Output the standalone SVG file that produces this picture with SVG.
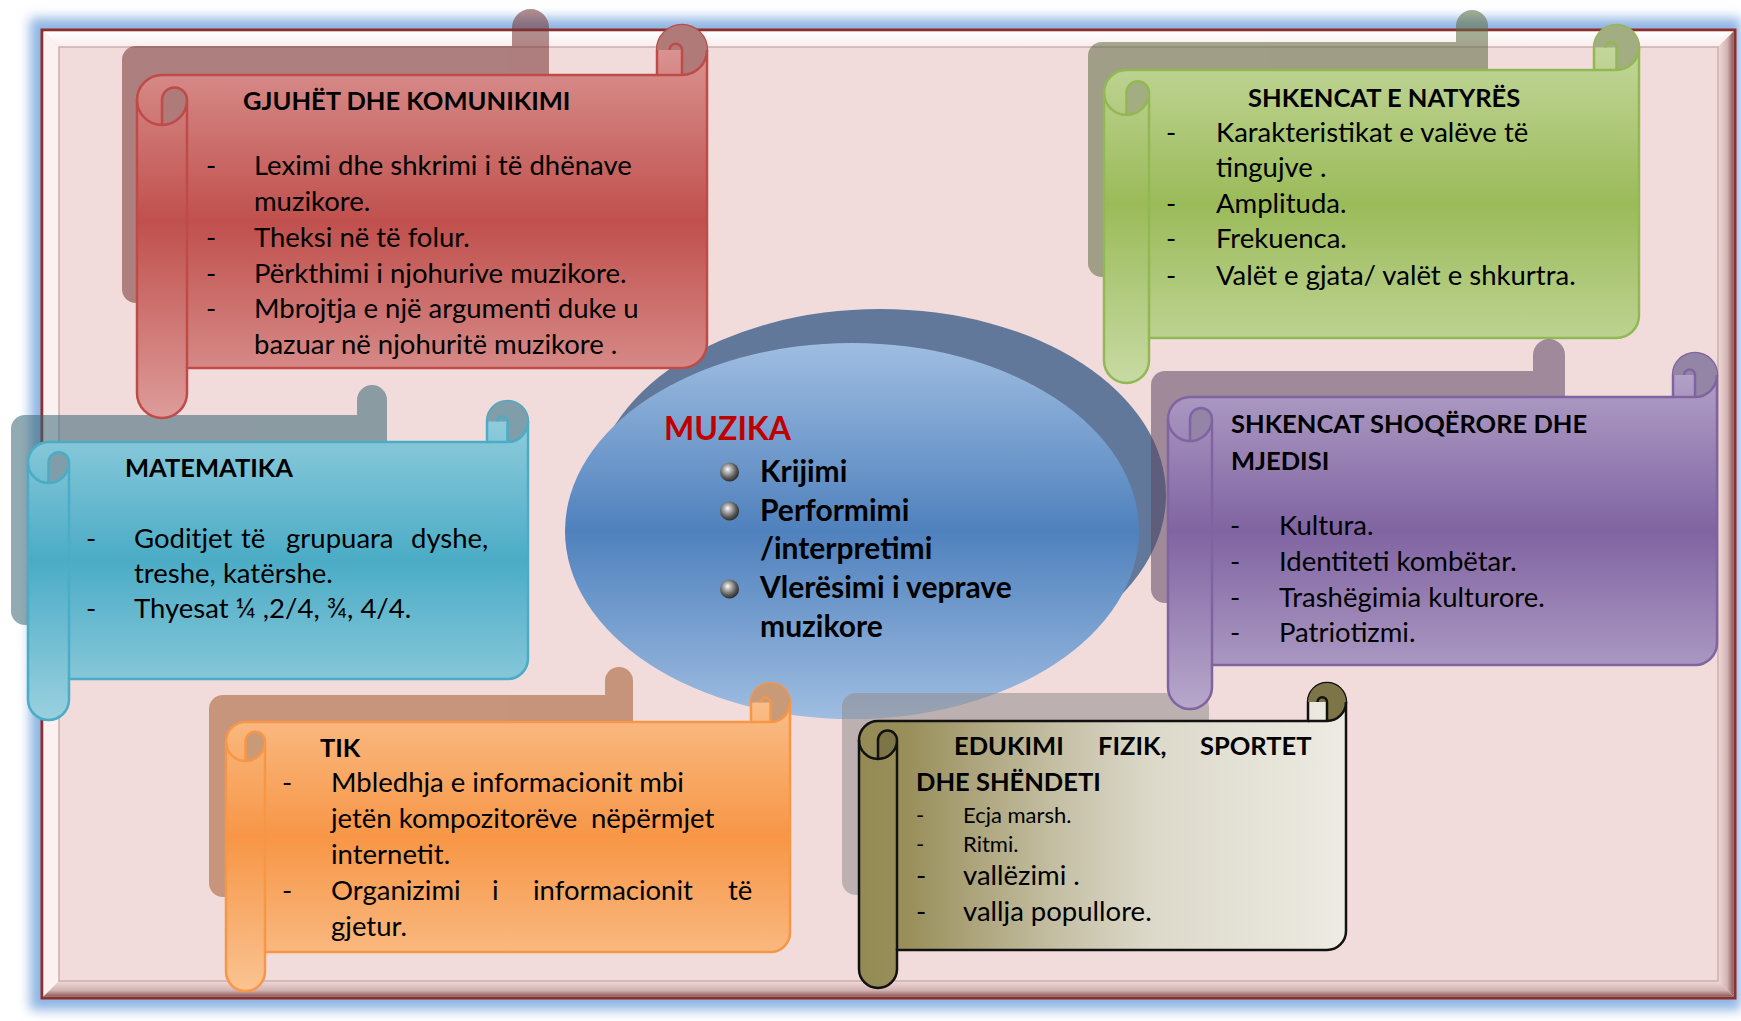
<svg xmlns="http://www.w3.org/2000/svg" width="1741" height="1021" viewBox="0 0 1741 1021">
<defs>
<style>
.tx{font-family:Lato,'Open Sans','Liberation Sans',sans-serif;font-size:27.5px;fill:#000}
.bd{font-family:Lato,'Open Sans','Liberation Sans',sans-serif;font-size:25.5px;font-weight:700;fill:#000}
.sm{font-size:22px}
.eb{font-family:Lato,'Open Sans','Liberation Sans',sans-serif;font-size:30px;font-weight:700;fill:#000}
.det{fill:none;stroke-width:2.5}
</style>
<filter id="glow" x="-5%" y="-5%" width="110%" height="110%"><feGaussianBlur stdDeviation="6"/></filter>
<linearGradient id="gRed" x1="0" y1="0" x2="0" y2="1"><stop offset="0" stop-color="#DD9C9A"/><stop offset="0.5" stop-color="#C0504D"/><stop offset="1" stop-color="#DD9C9A"/></linearGradient>
<linearGradient id="gGreen" x1="0" y1="0" x2="0" y2="1"><stop offset="0" stop-color="#C8DAA4"/><stop offset="0.5" stop-color="#9BBB59"/><stop offset="1" stop-color="#C8DAA4"/></linearGradient>
<linearGradient id="gBlue" x1="0" y1="0" x2="0" y2="1"><stop offset="0" stop-color="#9AD0DF"/><stop offset="0.5" stop-color="#4BACC6"/><stop offset="1" stop-color="#9AD0DF"/></linearGradient>
<linearGradient id="gPurple" x1="0" y1="0" x2="0" y2="1"><stop offset="0" stop-color="#B8A8CB"/><stop offset="0.5" stop-color="#8064A2"/><stop offset="1" stop-color="#B8A8CB"/></linearGradient>
<linearGradient id="gOrange" x1="0" y1="0" x2="0" y2="1"><stop offset="0" stop-color="#FAC392"/><stop offset="0.5" stop-color="#F79646"/><stop offset="1" stop-color="#FAC392"/></linearGradient>
<linearGradient id="gOlive" x1="0" y1="0" x2="1" y2="0"><stop offset="0" stop-color="#948A54"/><stop offset="0.1" stop-color="#998F5B"/><stop offset="0.4" stop-color="#C4BEA3"/><stop offset="0.6" stop-color="#DCD9CA"/><stop offset="1" stop-color="#EDEBE3"/></linearGradient>
<linearGradient id="gEll" x1="0" y1="0" x2="0" y2="1"><stop offset="0" stop-color="#9FBDE1"/><stop offset="0.5" stop-color="#4F81BD"/><stop offset="1" stop-color="#9FBDE1"/></linearGradient>
<radialGradient id="ball" cx="0.42" cy="0.4" r="0.62" fx="0.4" fy="0.35"><stop offset="0" stop-color="#FFFFFF"/><stop offset="0.25" stop-color="#BDBDBD"/><stop offset="0.7" stop-color="#5A5A5A"/><stop offset="1" stop-color="#2A2A2A"/></radialGradient>
<linearGradient id="bevB" x1="0" y1="0" x2="0" y2="1"><stop offset="0" stop-color="#F0DADA"/><stop offset="0.6" stop-color="#D2B3B2"/><stop offset="1" stop-color="#8A5A58"/></linearGradient>
<linearGradient id="bevR" x1="0" y1="0" x2="1" y2="0"><stop offset="0" stop-color="#F0DADA"/><stop offset="0.6" stop-color="#D2B3B2"/><stop offset="1" stop-color="#8A5A58"/></linearGradient>
<linearGradient id="bevT" x1="0" y1="0" x2="0" y2="1"><stop offset="0" stop-color="#FFFFFF"/><stop offset="1" stop-color="#F8ECEC"/></linearGradient>
</defs>

<g id="frame">
<rect x="30" y="18" width="1711" height="992" fill="#8EB4E3" filter="url(#glow)"/>
<rect x="42" y="30" width="1693" height="968" fill="#F2DCDB" stroke="#8E2F2D" stroke-width="3"/>
<polygon points="43.5,31.5 1733.5,31.5 1718,47 59,47" fill="url(#bevT)"/>
<polygon points="43.5,31.5 59,47 59,981 43.5,996.5" fill="#FBF1F1"/>
<polygon points="43.5,996.5 59,981 1718,981 1733.5,996.5" fill="url(#bevB)"/>
<polygon points="1733.5,31.5 1733.5,996.5 1718,981 1718,47" fill="url(#bevR)"/>
<rect x="59" y="47" width="1659" height="934" fill="none" stroke="#CDAEAD" stroke-width="1.5"/>
</g>

<g id="connectors"></g>

<g id="node-muzika">
<ellipse cx="880" cy="495" rx="286" ry="186" fill="#61789A"/>
<ellipse cx="852" cy="531" rx="287" ry="188" fill="url(#gEll)"/>
<text x="664" y="440" font-family="Lato,'Open Sans',sans-serif" font-size="32" font-weight="700" fill="#C00000">MUZIKA</text>
<circle cx="729.5" cy="472" r="9.5" fill="url(#ball)"/>
<circle cx="729.5" cy="511" r="9.5" fill="url(#ball)"/>
<circle cx="729.5" cy="589" r="9.5" fill="url(#ball)"/>
<text class="eb" x="760" y="482">Krijimi</text>
<text class="eb" x="760" y="521">Performimi</text>
<text class="eb" x="760" y="559">/interpretimi</text>
<text class="eb" x="760" y="598">Vlerësimi i veprave</text>
<text class="eb" x="760" y="637">muzikore</text>
</g>

<g id="node-tik">
<g opacity="0.55" fill="#A25B2B"><rect x="209" y="695" width="424" height="202" rx="14"/><path d="M605,715 L605,681 A14,14 0 0 1 633,681 L633,715 Z"/></g>
<path d="M226,741.5 A19.5,19.5 0 0 1 245.5,722 L751,722 L751,702.5 A19.5,19.5 0 0 1 790,702.5 L790,932.5 A19.5,19.5 0 0 1 770.5,952 L265,952 L265,971.5 A19.5,19.5 0 0 1 226,971.5 Z" fill="url(#gOrange)" stroke="#F79646" stroke-width="2.5"/>
<path d="M245.5,761 A19.5,19.5 0 0 0 265,741.5 A9.75,9.75 0 0 0 245.5,741.5 Z M770.5,722 A19.5,19.5 0 1 0 751,702.5 L770.5,702.5 Z" fill="#C99A78"/>
<path class="det" stroke="#F79646" d="M245.5,761 L245.5,741.5 A9.75,9.75 0 0 1 265,741.5 A19.5,19.5 0 0 1 226,741.5 M265,741.5 L265,952 M751,722 L770.5,722 A19.5,19.5 0 0 0 790,702.5 M770.5,722 L770.5,702.5 A4.9,4.9 0 0 0 760.7,702.5"/>
<text class="bd" x="320" y="757">TIK</text>
<text class="tx" x="282" y="792">-</text>
<text class="tx" x="331" y="792">Mbledhja e informacionit mbi</text>
<text class="tx" y="828"><tspan x="331">jetën kompozitorëve</tspan><tspan x="591">nëpërmjet</tspan></text>
<text class="tx" x="331" y="864">internetit.</text>
<text class="tx" x="282" y="900">-</text>
<text class="tx" y="900"><tspan x="331">Organizimi</tspan><tspan x="492">i</tspan><tspan x="533">informacionit</tspan><tspan x="728">të</tspan></text>
<text class="tx" x="331" y="936">gjetur.</text>
</g>

<g id="node-edukimi">
<rect x="842" y="693" width="367" height="202" rx="14" fill="#928C8D" opacity="0.55"/>
<path d="M859,740 A19,19 0 0 1 878,721 L1308,721 L1308,702 A19,19 0 0 1 1346,702 L1346,931 A19,19 0 0 1 1327,950 L897,950 L897,969 A19,19 0 0 1 859,969 Z" fill="url(#gOlive)" stroke="#111" stroke-width="2.5"/>
<path d="M878,759 A19,19 0 0 0 897,740 A9.5,9.5 0 0 0 878,740 Z M1327,721 A19,19 0 1 0 1308,702 L1327,702 Z" fill="#7D7447"/>
<path class="det" stroke="#111" d="M878,759 L878,740 A9.5,9.5 0 0 1 897,740 A19,19 0 0 1 859,740 M897,740 L897,950 M1308,721 L1327,721 A19,19 0 0 0 1346,702 M1327,721 L1327,702 A4.75,4.75 0 0 0 1317.5,702"/>
<text class="bd" y="755"><tspan x="954">EDUKIMI</tspan><tspan x="1098">FIZIK,</tspan><tspan x="1200">SPORTET</tspan></text>
<text class="bd" x="916" y="791">DHE SHËNDETI</text>
<text class="tx sm" x="916" y="823">-</text>
<text class="tx sm" x="963" y="823">Ecja marsh.</text>
<text class="tx sm" x="916" y="852">-</text>
<text class="tx sm" x="963" y="852">Ritmi.</text>
<text class="tx" x="916" y="885">-</text>
<text class="tx" x="963" y="885">vallëzimi .</text>
<text class="tx" x="916" y="921">-</text>
<text class="tx" x="963" y="921">vallja popullore.</text>
</g>

<g id="node-matematika">
<g opacity="0.55" fill="#386675"><rect x="11" y="415" width="376" height="210" rx="14"/><path d="M357,435 L357,400 A15,15 0 0 1 387,400 L387,435 Z"/></g>
<path d="M28,462.5 A20.5,20.5 0 0 1 48.5,442 L487,442 L487,421.5 A20.5,20.5 0 0 1 528,421.5 L528,658.5 A20.5,20.5 0 0 1 507.5,679 L69,679 L69,699.5 A20.5,20.5 0 0 1 28,699.5 Z" fill="url(#gBlue)" stroke="#4BACC6" stroke-width="2.5"/>
<path d="M48.5,483 A20.5,20.5 0 0 0 69,462.5 A10.25,10.25 0 0 0 48.5,462.5 Z M507.5,442 A20.5,20.5 0 1 0 487,421.5 L507.5,421.5 Z" fill="#7F9EA9"/>
<path class="det" stroke="#4BACC6" d="M48.5,483 L48.5,462.5 A10.25,10.25 0 0 1 69,462.5 A20.5,20.5 0 0 1 28,462.5 M69,462.5 L69,679 M487,442 L507.5,442 A20.5,20.5 0 0 0 528,421.5 M507.5,442 L507.5,421.5 A5.1,5.1 0 0 0 497.3,421.5"/>
<text class="bd" x="125" y="477">MATEMATIKA</text>
<text class="tx" x="86" y="548">-</text>
<text class="tx" y="548"><tspan x="134">Goditjet</tspan><tspan x="241">të</tspan><tspan x="286">grupuara</tspan><tspan x="411">dyshe,</tspan></text>
<text class="tx" x="134" y="583">treshe, katërshe.</text>
<text class="tx" x="86" y="618">-</text>
<text class="tx" x="134" y="618">Thyesat ¼ ,2/4, ¾, 4/4.</text>
</g>

<g id="node-gjuhet">
<g opacity="0.55" fill="#753332"><rect x="122" y="46" width="427" height="257" rx="14"/><path d="M512,66 L512,27.5 A18.5,18.5 0 0 1 549,27.5 L549,66 Z"/></g>
<path d="M137,100 A25,25 0 0 1 162,75 L657,75 L657,50 A25,25 0 0 1 707,50 L707,343 A25,25 0 0 1 682,368 L187,368 L187,393 A25,25 0 0 1 137,393 Z" fill="url(#gRed)" stroke="#BE4B48" stroke-width="2.5"/>
<path d="M162,125 A25,25 0 0 0 187,100 A12.5,12.5 0 0 0 162,100 Z M682,75 A25,25 0 1 0 657,50 L682,50 Z" fill="#B07A78"/>
<path class="det" stroke="#BE4B48" d="M162,125 L162,100 A12.5,12.5 0 0 1 187,100 A25,25 0 0 1 137,100 M187,100 L187,368 M657,75 L682,75 A25,25 0 0 0 707,50 M682,75 L682,50 A6.25,6.25 0 0 0 669.5,50"/>
<text class="bd" x="243" y="110">GJUHËT DHE KOMUNIKIMI</text>
<text class="tx" x="206" y="175">-</text>
<text class="tx" x="254" y="175">Leximi dhe shkrimi i të dhënave</text>
<text class="tx" x="254" y="211">muzikore.</text>
<text class="tx" x="206" y="247">-</text>
<text class="tx" x="254" y="247">Theksi në të folur.</text>
<text class="tx" x="206" y="283">-</text>
<text class="tx" x="254" y="283">Përkthimi i njohurive muzikore.</text>
<text class="tx" x="206" y="318">-</text>
<text class="tx" x="254" y="318">Mbrojtja e një argumenti duke u</text>
<text class="tx" x="254" y="354">bazuar në njohuritë muzikore .</text>
</g>

<g id="node-shkencat-natyres">
<g opacity="0.55" fill="#5D6B40"><rect x="1088" y="42" width="400" height="235" rx="14"/><path d="M1456,62 L1456,26 A16,16 0 0 1 1488,26 L1488,62 Z"/></g>
<path d="M1104,92.5 A22.5,22.5 0 0 1 1126.5,70 L1594,70 L1594,47.5 A22.5,22.5 0 0 1 1639,47.5 L1639,315.5 A22.5,22.5 0 0 1 1616.5,338 L1149,338 L1149,360.5 A22.5,22.5 0 0 1 1104,360.5 Z" fill="url(#gGreen)" stroke="#92B853" stroke-width="2.5"/>
<path d="M1126.5,115 A22.5,22.5 0 0 0 1149,92.5 A11.25,11.25 0 0 0 1126.5,92.5 Z M1616.5,70 A22.5,22.5 0 1 0 1594,47.5 L1616.5,47.5 Z" fill="#A3AD82"/>
<path class="det" stroke="#92B853" d="M1126.5,115 L1126.5,92.5 A11.25,11.25 0 0 1 1149,92.5 A22.5,22.5 0 0 1 1104,92.5 M1149,92.5 L1149,338 M1594,70 L1616.5,70 A22.5,22.5 0 0 0 1639,47.5 M1616.5,70 L1616.5,47.5 A5.6,5.6 0 0 0 1605.3,47.5"/>
<text class="bd" x="1248" y="107">SHKENCAT E NATYRËS</text>
<text class="tx" x="1166" y="142">-</text>
<text class="tx" x="1216" y="142">Karakteristikat e valëve të</text>
<text class="tx" x="1216" y="177">tingujve .</text>
<text class="tx" x="1166" y="213">-</text>
<text class="tx" x="1216" y="213">Amplituda.</text>
<text class="tx" x="1166" y="248">-</text>
<text class="tx" x="1216" y="248">Frekuenca.</text>
<text class="tx" x="1166" y="285">-</text>
<text class="tx" x="1216" y="285">Valët e gjata/ valët e shkurtra.</text>
</g>

<g id="node-shkencat-shoqerore">
<g opacity="0.55" fill="#5D4765"><rect x="1151" y="371" width="414" height="232" rx="14"/><path d="M1533,391 L1533,355 A16,16 0 0 1 1565,355 L1565,391 Z"/></g>
<path d="M1168,419 A22,22 0 0 1 1190,397 L1673,397 L1673,375 A22,22 0 0 1 1717,375 L1717,643 A22,22 0 0 1 1695,665 L1212,665 L1212,687 A22,22 0 0 1 1168,687 Z" fill="url(#gPurple)" stroke="#8064A2" stroke-width="2.5"/>
<path d="M1190,441 A22,22 0 0 0 1212,419 A11,11 0 0 0 1190,419 Z M1695,397 A22,22 0 1 0 1673,375 L1695,375 Z" fill="#9485A6"/>
<path class="det" stroke="#8064A2" d="M1190,441 L1190,419 A11,11 0 0 1 1212,419 A22,22 0 0 1 1168,419 M1212,419 L1212,665 M1673,397 L1695,397 A22,22 0 0 0 1717,375 M1695,397 L1695,375 A5.5,5.5 0 0 0 1684,375"/>
<text class="bd" x="1231" y="433">SHKENCAT SHOQËRORE DHE</text>
<text class="bd" x="1231" y="470">MJEDISI</text>
<text class="tx" x="1230" y="535">-</text>
<text class="tx" x="1279" y="535">Kultura.</text>
<text class="tx" x="1230" y="571">-</text>
<text class="tx" x="1279" y="571">Identiteti kombëtar.</text>
<text class="tx" x="1230" y="607">-</text>
<text class="tx" x="1279" y="607">Trashëgimia kulturore.</text>
<text class="tx" x="1230" y="642">-</text>
<text class="tx" x="1279" y="642">Patriotizmi.</text>
</g>
</svg>
